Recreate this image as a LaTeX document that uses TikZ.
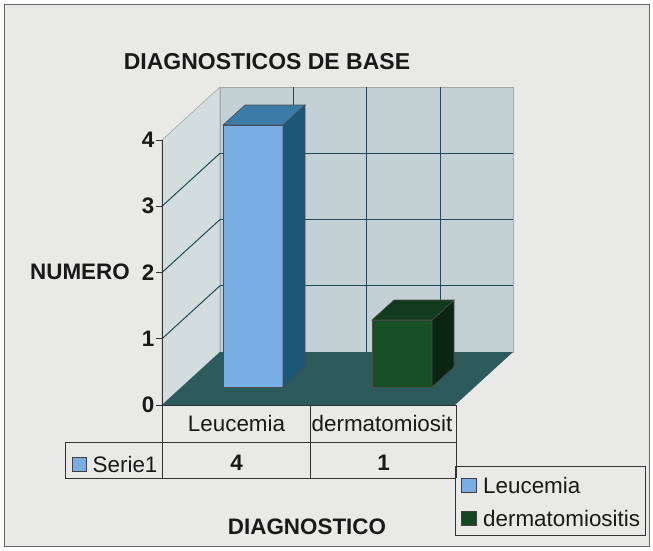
\documentclass[tikz,border=0pt]{standalone}
\usepackage{fontspec}
\setmainfont{Liberation Sans}
\definecolor{bgc}{HTML}{E9E9E7}
\definecolor{backwall}{HTML}{C4D1D4}
\definecolor{sidewall}{HTML}{D4DDDD}
\definecolor{floorc}{HTML}{2D5A5A}
\definecolor{gridc}{HTML}{1F4A55}
\definecolor{blueF}{HTML}{78AEE4}
\definecolor{blueS}{HTML}{1B5878}
\definecolor{blueT}{HTML}{3C7BA8}
\definecolor{greenF}{HTML}{174F26}
\definecolor{greenS}{HTML}{0A2612}
\definecolor{greenT}{HTML}{123B1E}
\tikzset{
  lbl/.style={font=\fontsize{22.4}{26}\selectfont, inner sep=0pt, text=black!90},
  blbl/.style={font=\fontsize{22.4}{26}\selectfont\bfseries, inner sep=0pt, text=black!90},
  gridline/.style={draw=gridc, line width=1pt},
  walledge/.style={draw=black!35, line width=0.6pt},
  tbl/.style={draw=black!80, line width=0.9pt},
  baredge/.style={draw=black!70, line width=0.6pt},
  keybox/.style={draw=black!75, line width=0.8pt},
}
\begin{document}
\begin{tikzpicture}[x=1pt,y=-1pt]
\useasboundingbox (0,0) rectangle (653,550);
% background
\fill[white] (0,0) rectangle (653,550);
\fill[bgc] (4.5,4.5) rectangle (649.5,546.5);
\draw[black!60, line width=1pt] (4.5,4.5) rectangle (649.5,546.5);
% walls
\filldraw[fill=backwall, walledge] (220,87) rectangle (513,352);
\filldraw[fill=sidewall, walledge] (162,140) -- (220,87) -- (220,352) -- (162,405) -- cycle;
% back wall grid
\foreach \gx in {293.3,366.7,440} \draw[gridline] (\gx,87) -- (\gx,352);
\foreach \gy in {153.25,219.5,285.75} \draw[gridline] (220,\gy) -- (513,\gy);
% side wall grid
\foreach \gy in {153.25,219.5,285.75} \draw[gridline] (220,\gy) -- (162,\gy+53);
% floor
\fill[floorc] (220,352) -- (513,352) -- (455,405) -- (162,405) -- cycle;
% axis
\draw[black!80, line width=0.9pt] (162,140) -- (162,405);
\foreach \ty in {140,206.25,272.5,338.75,405} \draw[black!80, line width=0.9pt] (156,\ty) -- (162,\ty);
% blue bar
\filldraw[fill=blueF, baredge] (223,125) rectangle (283,387);
\filldraw[fill=blueS, baredge] (283,125) -- (305,105) -- (305,367) -- (283,387) -- cycle;
\filldraw[fill=blueT, baredge] (223,125) -- (245,105) -- (305,105) -- (283,125) -- cycle;
% green bar
\filldraw[fill=greenF, baredge] (372,320) rectangle (432,387);
\filldraw[fill=greenS, baredge] (432,320) -- (454,300) -- (454,367) -- (432,387) -- cycle;
\filldraw[fill=greenT, baredge] (372,320) -- (394,300) -- (454,300) -- (432,320) -- cycle;
% data table
\draw[tbl] (162,405) -- (456,405);
\draw[tbl] (65,442) -- (456,442);
\draw[tbl] (65,478) -- (456,478);
\draw[tbl] (65,442) -- (65,478);
\draw[tbl] (162,405) -- (162,478);
\draw[tbl] (310,405) -- (310,478);
\draw[tbl] (456,405) -- (456,478);
% texts
\node[font=\fontsize{23}{27}\selectfont\bfseries, inner sep=0pt, text=black!90] (title) at (267,62) {DIAGNOSTICOS DE BASE};
\node[blbl] (ylab) at (80,272) {NUMERO};
\node[blbl, anchor=east] (t4) at (154.5,140) {4};
\node[blbl, anchor=east] (t3) at (154.5,206.25) {3};
\node[blbl, anchor=east] (t2) at (154.5,272.5) {2};
\node[blbl, anchor=east] (t1) at (154.5,338.75) {1};
\node[blbl, anchor=east] (t0) at (154.5,405) {0};
\node[lbl] (hleu) at (236.5,423.5) {Leucemia};
\node[lbl, anchor=west] (hder) at (311.5,423.5) {dermatomiosit};
\filldraw[fill=blueF, keybox] (72,457) rectangle (86,471);
\node[lbl, anchor=west] (serie) at (92.5,464) {Serie1};
\node[blbl] (v4) at (236.5,463) {4};
\node[blbl] (v1) at (383.5,463) {1};
\node[blbl] (xlab) at (307,527) {DIAGNOSTICO};
% legend
\draw[tbl] (455,466) rectangle (645,535);
\filldraw[fill=blueF, keybox] (461,478) rectangle (476,492);
\node[lbl, anchor=west] (legleu) at (483,485.5) {Leucemia};
\filldraw[fill=greenF!90!black, keybox] (461,511) rectangle (476,525);
\node[lbl, anchor=west] (legder) at (483,518.5) {dermatomiositis};
\end{tikzpicture}
\end{document}
